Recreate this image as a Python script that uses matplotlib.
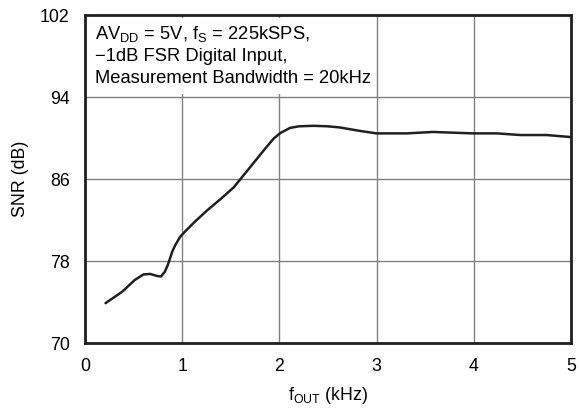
import matplotlib
matplotlib.use("Agg")
from matplotlib import pyplot as plt
from matplotlib.patches import Rectangle

plt.rcParams['font.family'] = ['Liberation Sans', 'DejaVu Sans']
plt.rcParams['mathtext.fontset'] = 'custom'
plt.rcParams['mathtext.rm'] = 'Liberation Sans'

# SNR vs output frequency
f_out = [0.21, 0.38, 0.51, 0.6, 0.67, 0.74, 0.78, 0.82, 0.85, 0.875, 0.9, 0.93, 0.98,
         1.03, 1.13, 1.25, 1.4, 1.53, 1.59, 1.68, 1.77, 1.86, 1.94, 2.01, 2.11, 2.2,
         2.35, 2.5, 2.62, 2.83, 3.0, 3.31, 3.58, 3.99, 4.24, 4.48, 4.75, 5.0]
snr = [73.9, 75.0, 76.15, 76.7, 76.75, 76.55, 76.5, 76.95, 77.6, 78.3, 79.0, 79.6, 80.4,
       80.9, 81.85, 82.9, 84.1, 85.2, 85.9, 86.95, 88.0, 89.05, 89.95, 90.5, 91.0, 91.15,
       91.2, 91.15, 91.04, 90.7, 90.46, 90.46, 90.6, 90.46, 90.46, 90.3, 90.3, 90.1]

xticks = [0, 1, 2, 3, 4, 5]
yticks = [70, 78, 86, 94, 102]

fs = 12.8
fs_note = 13.2

fig = plt.figure(figsize=(5.79, 4.08), dpi=100)
ax = fig.add_axes([0.147, 0.159, 0.839, 0.804])

ax.plot(f_out, snr, color='#231f20', lw=1.8, zorder=3,
        solid_joinstyle='round', solid_capstyle='round')

ax.set_xlim(0, 5)
ax.set_ylim(70, 102)
ax.set_xticks(xticks)
ax.set_yticks(yticks)
ax.grid(True, color='#808080', lw=1.0)
ax.set_axisbelow(True)
ax.tick_params(length=0, labelsize=fs, colors='black')
ax.tick_params(axis='x', pad=11)
ax.tick_params(axis='y', pad=11)
for s in ax.spines.values():
    s.set_linewidth(2.0)
    s.set_color('#231f20')

# white box behind the condition note
ax.add_patch(Rectangle((0.04, 94.3), 2.92, 7.4, facecolor='white', edgecolor='none', zorder=2))
ax.text(0.1, 100.2, 'AV$_{\\mathregular{DD}}$ = 5V, f$_{\\mathregular{S}}$ = 225kSPS,',
        fontsize=fs_note, va='center', zorder=4)
ax.text(0.1, 98.0, '\u22121dB FSR Digital Input,', fontsize=fs_note, va='center', zorder=4)
ax.text(0.1, 95.8, 'Measurement Bandwidth = 20kHz', fontsize=fs_note, va='center', zorder=4)

ax.set_xlabel('f$_{\\mathregular{OUT}}$ (kHz)', fontsize=fs, labelpad=7)
ax.set_ylabel('SNR (dB)', fontsize=fs, labelpad=8)

fig.savefig('out.png', dpi=100)
